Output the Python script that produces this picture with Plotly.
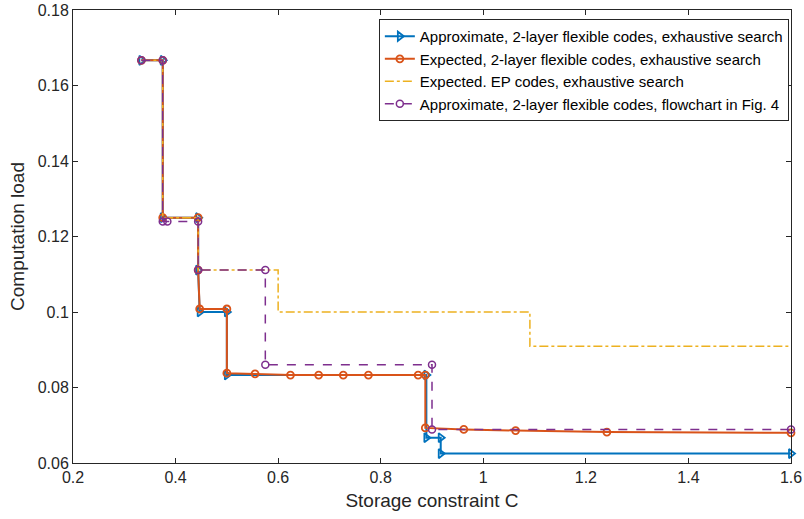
import plotly.graph_objects as go

# ---- data ----
approx_x = [1/3, 0.375, 0.375, 0.444, 0.444, 0.447, 0.5, 0.5, 0.889, 0.889, 0.917, 0.917, 1.6]
approx_y = [1/6, 1/6, 0.125, 0.125, 0.1111, 0.1, 0.1, 0.0833, 0.0833, 0.0667, 0.0667, 0.0625, 0.0625]

exp_x = [1/3, 0.375, 0.375, 0.444, 0.444, 0.447, 0.5, 0.5, 0.555, 0.624, 0.679, 0.727, 0.776,
         0.873, 0.887, 0.887, 0.962, 1.063, 1.241, 1.6]
exp_y = [1/6, 1/6, 0.125, 0.125, 0.1111, 0.1008, 0.1008, 0.0838, 0.0836, 0.0833, 0.0833, 0.0833,
         0.0833, 0.0833, 0.0833, 0.0693, 0.0689, 0.0686, 0.0682, 0.0680]

ep_x = [1/3, 0.375, 0.375, 0.444, 0.444, 0.6, 0.6, 1.0909, 1.0909, 1.6]
ep_y = [1/6, 1/6, 0.125, 0.125, 0.1111, 0.1111, 0.1, 0.1, 0.0909, 0.0909]

flow_x = [1/3, 0.375, 0.375, 0.384, 0.444, 0.444, 0.575, 0.575, 0.9, 0.9, 1.6]
flow_y = [1/6, 1/6, 0.124, 0.124, 0.124, 0.1111, 0.1111, 0.086, 0.086, 0.0689, 0.0689]

names = [
    "Approximate, 2-layer flexible codes, exhaustive search",
    "Expected, 2-layer flexible codes, exhaustive search",
    "Expected. EP codes, exhaustive search",
    "Approximate, 2-layer flexible codes, flowchart in Fig. 4",
]

x_ticks = [0.2, 0.4, 0.6, 0.8, 1.0, 1.2, 1.4, 1.6]
x_tick_labels = ["0.2", "0.4", "0.6", "0.8", "1", "1.2", "1.4", "1.6"]
y_ticks = [0.06, 0.08, 0.10, 0.12, 0.14, 0.16, 0.18]
y_tick_labels = ["0.06", "0.08", "0.1", "0.12", "0.14", "0.16", "0.18"]

BLUE = "#0072BD"
ORANGE = "#D95319"
YELLOW = "#EDB120"
PURPLE = "#7E2F8E"

fig = go.Figure()
fig.add_trace(go.Scatter(
    x=approx_x, y=approx_y, name=names[0], mode="lines+markers",
    line=dict(color=BLUE, width=2),
    marker=dict(symbol="triangle-right-open", size=8, color=BLUE, line=dict(width=1.8, color=BLUE)),
    cliponaxis=False,
))
fig.add_trace(go.Scatter(
    x=exp_x, y=exp_y, name=names[1], mode="lines+markers",
    line=dict(color=ORANGE, width=2),
    marker=dict(symbol="circle-open", size=7, color=ORANGE, line=dict(width=1.8, color=ORANGE)),
    cliponaxis=False,
))
fig.add_trace(go.Scatter(
    x=ep_x, y=ep_y, name=names[2], mode="lines",
    line=dict(color=YELLOW, width=1.5, dash="dashdot"),
    cliponaxis=False,
))
fig.add_trace(go.Scatter(
    x=flow_x, y=flow_y, name=names[3], mode="lines+markers",
    line=dict(color=PURPLE, width=1.5, dash="dash"),
    marker=dict(symbol="circle-open", size=7, color=PURPLE, line=dict(width=1.5, color=PURPLE)),
    cliponaxis=False,
))

axis_common = dict(
    showline=True, linecolor="#262626", linewidth=1, mirror="ticks",
    ticks="inside", ticklen=5, tickcolor="#262626", tickwidth=1,
    showgrid=False, zeroline=False, automargin=False,
    tickfont=dict(size=16, color="#262626", family="Liberation Sans, Arial, sans-serif"),
)

fig.update_layout(
    width=804, height=519,
    margin=dict(l=73, r=13, t=10, b=56),
    paper_bgcolor="white", plot_bgcolor="white",
    font=dict(family="Liberation Sans, Arial, sans-serif", color="#262626"),
    xaxis=dict(range=[0.2, 1.6], tickvals=x_ticks, ticktext=x_tick_labels,
               title=dict(text="Storage constraint C", font=dict(size=19), standoff=8),
               **axis_common),
    yaxis=dict(range=[0.06, 0.18], tickvals=y_ticks, ticktext=y_tick_labels,
               title=dict(text="Computation load", font=dict(size=19), standoff=8),
               **axis_common),
    legend=dict(x=0.997, y=0.980, xanchor="right", yanchor="top",
                bgcolor="white", bordercolor="#262626", borderwidth=1,
                font=dict(size=15, color="black"), tracegroupgap=0,
                itemwidth=30),
    showlegend=True,
)

fig.write_html("out.html",
               config={"displayModeBar": False},
               post_script="document.body.style.margin='0';document.body.style.overflow='hidden';")
